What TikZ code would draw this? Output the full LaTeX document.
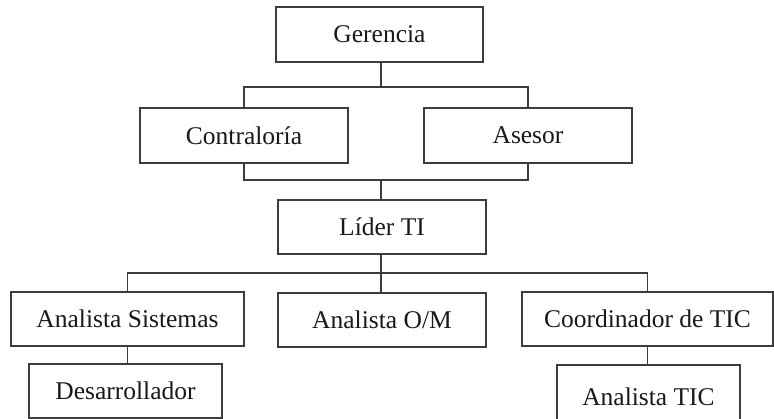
\documentclass[tikz,border=0pt]{standalone}
\usepackage{fontspec}
\setmainfont{Liberation Serif}
\begin{document}
\begin{tikzpicture}[x=1pt,y=-1pt,
  orgbox/.style={draw=boxline, line width=1.2pt, fill=white, inner sep=0pt,
    minimum height=55pt, text=black!90,
    font=\fontsize{25.5}{30}\selectfont},
  link/.style={draw=boxline, line width=1.2pt}]
\definecolor{boxline}{HTML}{3C3C3C}
\useasboundingbox (0,0) rectangle (774,419);

% boxes
\node[orgbox, minimum width=207pt] (ger) at (379.5,34.5) {Gerencia};
\node[orgbox, minimum width=208pt] (con) at (244,135.5) {Contraloría};
\node[orgbox, minimum width=208pt] (ase) at (528,135.5) {Asesor};
\node[orgbox, minimum width=208pt, minimum height=54pt] (lid) at (382,227) {Líder TI};
\node[orgbox, minimum width=233pt, minimum height=54pt] (ans) at (127.5,319) {Analista Sistemas};
\node[orgbox, minimum width=208pt, minimum height=54pt] (aom) at (382,320) {Analista O/M};
\node[orgbox, minimum width=251pt, minimum height=54pt] (cor) at (647.5,319) {Coordinador de TIC};
\node[orgbox, minimum width=193pt, minimum height=54pt] (des) at (125.5,391) {Desarrollador};
\node[orgbox, minimum width=183pt, minimum height=64pt] (atic) at (648.5,397) {Analista TIC};

% junctions
\coordinate (j1) at (381,87);
\coordinate (j2) at (381,180);
\coordinate (j3) at (381,273);

% connectors
\draw[link] (ger.south -| j1) -- (j1);
\draw[link] (con.north) |- (j1) -| (ase.north);
\draw[link] (con.south) |- (j2) -| (ase.south);
\draw[link] (j2) -- (lid.north -| j2);
\draw[link] (lid.south -| j3) -- (j3);
\draw[link] (ans.north) |- (j3) -| (cor.north);
\draw[link] (j3) -- (aom.north -| j3);
\draw[link] (ans.south) -- (ans.south |- des.north);
\draw[link] (cor.south) -- (cor.south |- atic.north);
\end{tikzpicture}
\end{document}
